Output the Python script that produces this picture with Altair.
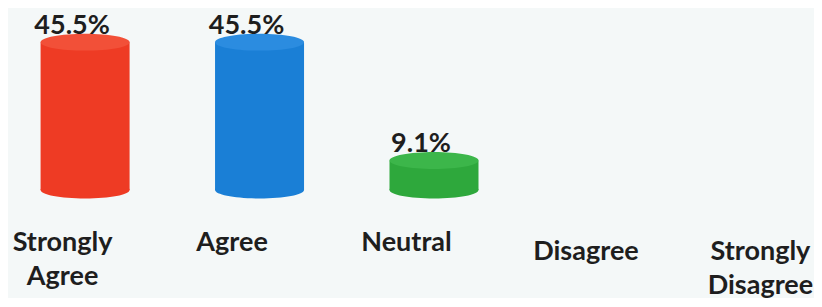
import altair as alt
import pandas as pd

categories = ["Strongly Agree", "Agree", "Neutral", "Disagree", "Strongly Disagree"]
values = [45.5, 45.5, 9.1, 0.0, 0.0]
labels = ["45.5%", "45.5%", "9.1%", "", ""]
body_colors = ["#ee3b24", "#1a7fd6", "#2ea83c", "#999999", "#999999"]
top_colors = ["#f25038", "#2b8ce0", "#3cb64a", "#aaaaaa", "#aaaaaa"]

df = pd.DataFrame({
    "cat": categories,
    "value": values,
    "label": labels,
    "body": body_colors,
    "top": top_colors,
})

ELL = "M-1,0 A1,0.19 0 1,0 1,0 A1,0.19 0 1,0 -1,0 Z"
BAR_W = 89
X_OFF = 23

x = alt.X(
    "cat:N",
    sort=categories,
    scale=alt.Scale(type="point", padding=0.31),
    axis=alt.Axis(
        title=None,
        domain=False,
        ticks=False,
        labelAngle=0,
        labelFont="Lato",
        labelFontWeight="bold",
        labelFontSize=27,
        labelColor="#1e1e1e",
        labelBaseline="top",
        labelLineHeight=34,
        labelExpr="split(datum.label, ' ')",
        labelPadding={"expr": "datum.index > 0.6 ? 48 : 39"},
        labelOffset={"expr": "datum.index > 0.1 && datum.index < 0.6 ? -5 : 0"},
        labelOverlap=False,
        labelBound=False,
        labelFlush=False,
    ),
)
y = alt.Y("value:Q", scale=alt.Scale(domain=[0, 56], nice=False, zero=True), axis=None)

base = alt.Chart(df).transform_filter("datum.value > 0")

axis_layer = alt.Chart(df).mark_point(opacity=0).encode(x=x, y=y)

bottom = base.mark_point(shape=ELL, filled=True, size=BAR_W * BAR_W, opacity=1, xOffset=X_OFF).encode(
    x=alt.X("cat:N", sort=categories),
    y=alt.datum(0),
    color=alt.Color("body:N", scale=None),
)
body = base.mark_bar(size=BAR_W, xOffset=X_OFF).encode(
    x=alt.X("cat:N", sort=categories),
    y="value:Q",
    y2=alt.datum(0),
    color=alt.Color("body:N", scale=None),
)
top = base.mark_point(shape=ELL, filled=True, size=BAR_W * BAR_W, opacity=1, xOffset=X_OFF).encode(
    x=alt.X("cat:N", sort=categories),
    y="value:Q",
    color=alt.Color("top:N", scale=None),
)
text = base.mark_text(
    font="Lato", fontWeight="bold", fontSize=27, color="#1e1e1e",
    baseline="alphabetic", xOffset=X_OFF - 13, yOffset=-8,
).encode(
    x=alt.X("cat:N", sort=categories),
    y="value:Q",
    text="label:N",
)

chart = (
    alt.layer(axis_layer, bottom, body, top, text)
    .properties(width=806, height=182, padding=0, background="#f4f8f8")
    .configure_view(stroke=None)
)

chart.save("out.html", embed_options={"renderer": "svg", "actions": False})
